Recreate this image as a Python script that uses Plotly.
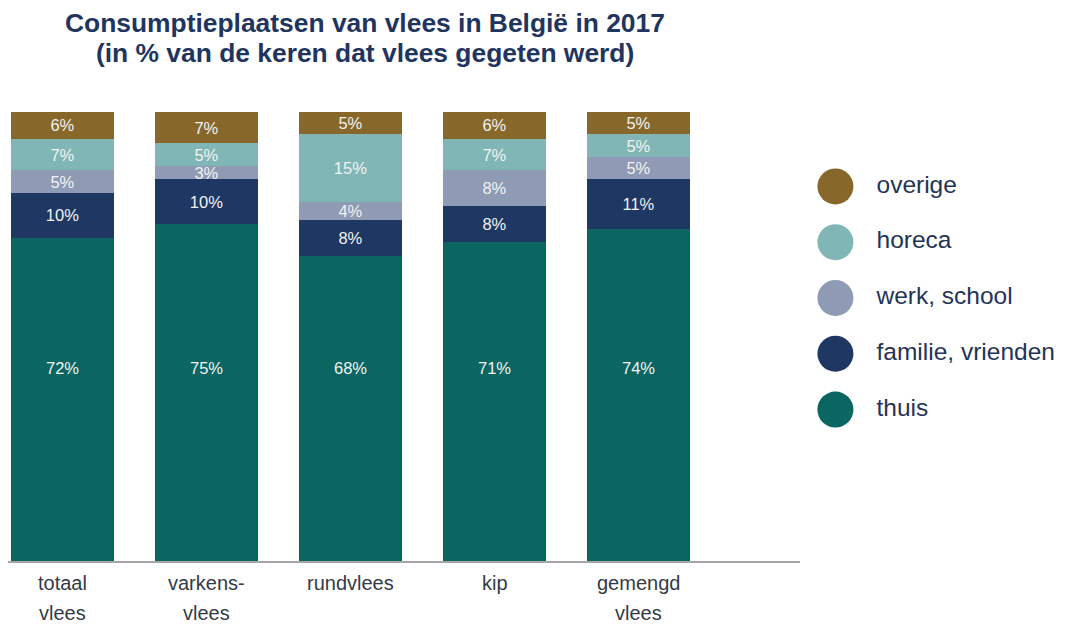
import plotly.graph_objects as go

categories = ["totaal vlees", "varkens-vlees", "rundvlees", "kip", "gemengd vlees"]
tick_line1 = ["totaal", "varkens-", "rundvlees", "kip", "gemengd"]
tick_line2 = ["vlees", "vlees", "", "", "vlees"]

series_names = ["thuis", "familie, vrienden", "werk, school", "horeca", "overige"]
thuis = [72, 75, 68, 71, 74]
familie = [10, 10, 8, 8, 11]
werk = [5, 3, 4, 8, 5]
horeca = [7, 5, 15, 7, 5]
overige = [6, 7, 5, 6, 5]
series_values = [thuis, familie, werk, horeca, overige]
colors = ["#0b6661", "#1e3763", "#8f9ab4", "#80b6b5", "#87672a"]

title_line1 = "Consumptieplaatsen van vlees in België in 2017"
title_line2 = "(in % van de keren dat vlees gegeten werd)"

FONT = "Arial, Liberation Sans, sans-serif"
LABEL_FONT = dict(family=FONT, size=16.5, color="#f2f2f2")
THUIS_LABEL_LEVEL = 43  # height (in %) at which the 'thuis' labels sit
OFF = 8  # page body margin
W, H = 1069 - OFF, 625 - OFF
ML, MR, MT, MB = 0, 4, 112 - OFF, 64
PW = W - ML - MR
PH = H - MT - MB


def px_x(sx):
    return (sx - OFF - ML) / PW


def px_y(sy):
    return (H - MB - (sy - OFF)) / PH


fig = go.Figure()
for name, vals, col in zip(series_names, series_values, colors):
    is_base = name == "thuis"
    fig.add_trace(go.Bar(
        x=categories, y=vals, name=name, marker_color=col,
        marker_line_width=0,
        text=None if is_base else [f"{v}%" for v in vals],
        textposition="inside", insidetextanchor="middle",
        textfont=LABEL_FONT,
        showlegend=False, hoverinfo="skip",
    ))

annotations = []
for cat, v in zip(categories, thuis):
    annotations.append(dict(text=f"{v}%", x=cat, y=THUIS_LABEL_LEVEL, xref="x", yref="y",
                            showarrow=False, font=LABEL_FONT))

legend_order = series_names
fig.add_trace(go.Scatter(
    x=[0.117] * len(legend_order), y=legend_order, mode="markers",
    marker=dict(size=36, color=colors, line_width=0),
    xaxis="x2", yaxis="y2", showlegend=False, hoverinfo="skip",
))
fig.add_trace(go.Scatter(
    x=[0.275] * len(legend_order), y=legend_order, mode="text",
    text=legend_order, textposition="middle right",
    textfont=dict(family=FONT, size=24.5, color="#243456"),
    xaxis="x2", yaxis="y2", showlegend=False, hoverinfo="skip",
))

annotations += [
    dict(text=f"<b>{title_line1}</b>", x=px_x(365), y=px_y(23), xref="paper", yref="paper",
         yanchor="middle", showarrow=False, font=dict(family=FONT, size=26.4, color="#1f3560")),
    dict(text=f"<b>{title_line2}</b>", x=px_x(365), y=px_y(53), xref="paper", yref="paper",
         yanchor="middle", showarrow=False, font=dict(family=FONT, size=26.4, color="#1f3560")),
]

for cat, l1, l2 in zip(categories, tick_line1, tick_line2):
    for txt, py in ((l1, 583), (l2, 613)):
        if txt:
            annotations.append(dict(
                text=txt, x=cat, xref="x", y=px_y(py), yref="paper",
                yanchor="middle", showarrow=False,
                font=dict(family=FONT, size=20, color="#333a48"),
            ))

# category centre of first bar at screen x 62.5, spacing 144 px
x0 = -(62.5 - OFF - ML) / 144
x1 = x0 + (px_x(800) * PW) / 144

fig.update_layout(
    barmode="stack", bargap=0.28,
    width=W, height=H,
    margin=dict(l=ML, r=MR, t=MT, b=MB),
    plot_bgcolor="white", paper_bgcolor="white",
    uniformtext=dict(minsize=16.5, mode="show"),
    xaxis=dict(domain=[0, px_x(800)], range=[x0, x1], showticklabels=False,
               showline=True, linecolor="#a6a6a6", linewidth=2, ticks="",
               showgrid=False, zeroline=False, fixedrange=True),
    yaxis=dict(range=[0, 100], visible=False, showgrid=False, fixedrange=True),
    xaxis2=dict(domain=[px_x(805), 1], range=[0, 1], visible=False, showgrid=False),
    yaxis2=dict(anchor="x2", range=[-2.716, 5.334], visible=False, showgrid=False,
                type="category", categoryorder="array", categoryarray=legend_order),
    annotations=annotations,
    font=dict(family=FONT),
)

fig.write_html("out.html")
